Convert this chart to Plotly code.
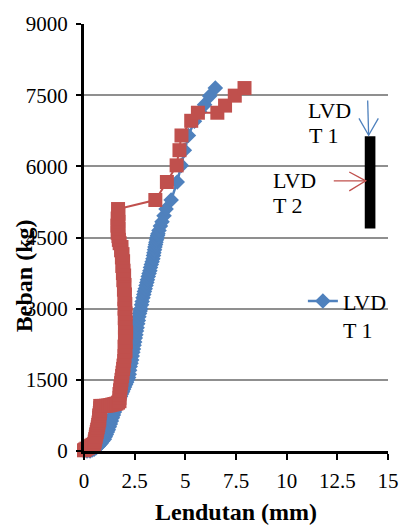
import plotly.graph_objects as go

# ---- data ----
t1_x = [0.0, 0.15, 0.3, 0.4, 0.5, 0.6, 0.7, 0.78, 0.85, 0.92, 1.0, 1.05, 1.1, 1.15, 1.2, 1.25,
        1.3, 1.35, 1.4, 1.45, 1.5, 1.55, 1.6, 1.65, 1.7, 1.75, 1.8, 1.85, 1.9, 1.95, 2.0,
        2.05, 2.1, 2.15, 2.2, 2.23, 2.25, 2.28, 2.32, 2.35, 2.38, 2.41, 2.44, 2.47, 2.5,
        2.53, 2.56, 2.59, 2.62, 2.65, 2.68, 2.71, 2.74, 2.77, 2.8, 2.84, 2.87, 2.91, 2.95,
        2.98, 3.02, 3.06, 3.1, 3.13, 3.17, 3.21, 3.25, 3.28, 3.32, 3.36, 3.4, 3.43, 3.45,
        3.48, 3.5, 3.53, 3.55, 3.58, 3.6, 3.63, 3.65, 3.7, 3.77, 3.85, 3.95, 4.05,
        4.3, 4.6, 4.8, 4.95, 5.15, 5.45, 5.7, 5.95, 6.2, 6.48]
t1_y = [0, 0, 0, 20, 40, 70, 100, 135, 170, 210, 250, 300, 350, 400, 450, 510,
        570, 630, 700, 760, 820, 880, 950, 1000, 1050, 1100, 1150, 1200, 1250, 1300, 1350,
        1400, 1450, 1500, 1550, 1620, 1700, 1780, 1850, 1920, 2000, 2080, 2150, 2230, 2300,
        2380, 2450, 2530, 2600, 2680, 2750, 2830, 2900, 2950, 3000, 3080, 3150, 3230, 3300,
        3360, 3420, 3490, 3550, 3610, 3680, 3740, 3800, 3870, 3930, 3990, 4050, 4120, 4180,
        4240, 4300, 4350, 4400, 4450, 4500, 4540, 4580, 4650, 4740, 4830, 4960, 5100,
        5290, 5670, 6020, 6340, 6650, 6950, 7150, 7300, 7480, 7650]

t2_x = [-0.1, 0.0, 0.05, 0.12, 0.2, 0.28, 0.35, 0.42, 0.5, 0.53, 0.55, 0.58, 0.6, 0.63, 0.65,
        0.68, 0.7, 0.72, 0.75, 0.75, 0.75, 0.78, 0.8, 0.8, 0.8, 0.9, 1.0, 1.1, 1.2, 1.3,
        1.4, 1.5, 1.6, 1.68, 1.75, 1.75, 1.75, 1.78, 1.8, 1.83, 1.85, 1.88, 1.9, 1.93,
        1.95, 1.98, 2.0, 2.05, 2.0, 2.06, 2.02, 2.08, 2.02, 2.06, 2.01, 2.05, 2.0, 2.04,
        1.99, 2.02, 1.97, 2.0, 1.94, 1.98, 1.92, 1.95, 1.89, 1.93, 1.87, 1.9, 1.83, 1.85,
        1.76, 1.72, 1.7, 1.66, 1.7, 1.65, 1.7, 1.66, 1.7, 1.68,
        3.52, 4.09, 4.57, 4.71, 4.81, 5.29, 5.62, 6.58, 6.96, 7.44, 7.92]
t2_y = [0, 15, 30, 50, 70, 90, 110, 130, 150, 200, 250, 300, 350, 400, 450,
        500, 550, 600, 650, 700, 750, 800, 850, 900, 950, 950, 950, 955, 960, 970,
        980, 990, 1000, 1020, 1050, 1120, 1200, 1280, 1350, 1430, 1500, 1580, 1650, 1730,
        1800, 1900, 2000, 2100, 2200, 2300, 2400, 2500, 2600, 2700, 2800, 2900, 3000, 3100,
        3200, 3300, 3400, 3500, 3600, 3700, 3750, 3800, 3900, 4000, 4080, 4150, 4230, 4300,
        4380, 4450, 4530, 4600, 4680, 4750, 4830, 4900, 5000, 5100,
        5290, 5670, 6020, 6340, 6650, 6960, 7130, 7130, 7280, 7490, 7650]

x_ticks = [0, 2.5, 5, 7.5, 10, 12.5, 15]
x_tick_labels = ["0", "2.5", "5", "7.5", "10", "12.5", "15"]
y_ticks = [0, 1500, 3000, 4500, 6000, 7500, 9000]
y_tick_labels = ["0", "1500", "3000", "4500", "6000", "7500", "9000"]

BLUE = "#4F81BD"
RED = "#C0504D"
FONT = "Liberation Serif"

# plot area geometry in pixels (for placing the sketch drawing / labels)
L, R, T, B = 84, 398, 21, 451


def px_x(p):
    return (p - L) / (R - L) * 15


def px_y(p):
    return (B - p) / (B - T) * 9000


def pap_x(p):
    return (p - L) / (R - L)


def pap_y(p):
    return (B - p) / (B - T)


fig = go.Figure()
fig.add_trace(go.Scatter(
    x=t1_x, y=t1_y, mode="lines+markers", name="LVD<br>T 1",
    line=dict(color=BLUE, width=2.5),
    marker=dict(symbol="diamond", size=12, color=BLUE),
    cliponaxis=False,
))
fig.add_trace(go.Scatter(
    x=t2_x, y=t2_y, mode="lines+markers", name="LVD<br>T 2", showlegend=False,
    line=dict(color=RED, width=2),
    marker=dict(symbol="square", size=14, color=RED),
    cliponaxis=False,
))

# sample (black bar) with LVDT positions
fig.add_shape(type="rect", xref="x", yref="y", x0=px_x(374), x1=px_x(385),
              y0=px_y(227), y1=px_y(134), fillcolor="black", line=dict(width=0))


def arrow(pts, color):
    path = "M " + " L ".join(f"{px_x(a)},{px_y(b)}" for a, b in pts)
    fig.add_shape(type="path", xref="x", yref="y", path=path,
                  line=dict(color=color, width=1.3))


# blue arrow (vertical)
arrow([(377, 98), (378, 133)], BLUE)
arrow([(368, 116), (378, 133), (388, 116)], BLUE)
# red arrow (horizontal)
arrow([(342, 179), (375, 179)], RED)
arrow([(358, 170), (375, 179), (358, 189)], RED)

for txt, lx, cy in [("LVD", 313, 108), ("T 1", 314, 133), ("LVD", 277, 179), ("T 2", 277, 204)]:
    fig.add_annotation(x=pap_x(lx), y=pap_y(cy), xref="paper", yref="paper",
                       xanchor="left", yanchor="middle", showarrow=False,
                       text=txt, font=dict(family=FONT, size=22, color="black"))

# axis titles
fig.add_annotation(x=pap_x(241), y=pap_y(512), xref="paper", yref="paper",
                   xanchor="center", yanchor="middle", showarrow=False,
                   text="<b>Lendutan (mm)</b>", font=dict(family=FONT, size=24, color="black"))
fig.add_annotation(x=pap_x(22), y=pap_y(274), xref="paper", yref="paper",
                   xanchor="center", yanchor="middle", showarrow=False, textangle=-90,
                   text="<b>Beban (kg)</b>", font=dict(family=FONT, size=24, color="black"))

fig.update_layout(
    width=411, height=525,
    margin=dict(l=L, r=411 - R, t=T, b=525 - B),
    paper_bgcolor="white", plot_bgcolor="white",
    font=dict(family=FONT, size=21, color="black"),
    showlegend=True,
    legend=dict(x=0.72, y=0.40, xanchor="left", yanchor="top", valign="top",
                bgcolor="rgba(0,0,0,0)", borderwidth=0,
                font=dict(family=FONT, size=22, color="black")),
    xaxis=dict(range=[0, 15], tickvals=x_ticks, ticktext=x_tick_labels,
               showgrid=False, zeroline=False, showline=True, linecolor="black",
               linewidth=3, ticks="outside", ticklen=6, tickwidth=2, tickcolor="black",
               ticklabelstandoff=3),
    yaxis=dict(range=[0, 9000], tickvals=y_ticks, ticktext=y_tick_labels,
               showgrid=True, gridcolor="#8f8f8f", gridwidth=1.5,
               zeroline=False, showline=True, linecolor="black",
               linewidth=3, ticks="outside", ticklen=5, tickwidth=2, tickcolor="black",
               ticklabelstandoff=4),
)

fig.write_html("out.html")
